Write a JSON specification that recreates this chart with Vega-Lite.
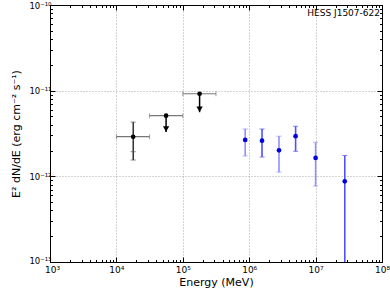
{
  "$schema": "https://vega.github.io/schema/vega-lite/v6.json",
  "width": 332,
  "height": 257,
  "autosize": {"type": "none"},
  "padding": {"left": 50, "top": 5, "right": 8, "bottom": 33},
  "config": {"font": "DejaVu Sans", "view": {"stroke": "black", "strokeWidth": 1}},
  "datasets": {
    "black": [
      {"e": 17900, "f": 2.9e-12, "elo": 10000, "ehi": 31600, "flo": 1.55e-12, "fmid": 1.94e-12, "fhi": 4.3e-12, "kind": "point"},
      {"e": 56000, "f": 5.1e-12, "elo": 31600, "ehi": 100000, "fend": 3.3e-12, "kind": "ul"},
      {"e": 179000, "f": 9.2e-12, "elo": 100000, "ehi": 316000, "fend": 5.6e-12, "kind": "ul"}
    ],
    "blue": [
      {"e": 870000, "f": 2.66e-12, "flo": 1.73e-12, "fhi": 3.57e-12, "set": "A"},
      {"e": 1560000, "f": 2.61e-12, "flo": 1.68e-12, "fhi": 3.57e-12, "set": "B"},
      {"e": 2810000, "f": 2.01e-12, "flo": 1.12e-12, "fhi": 2.94e-12, "set": "A"},
      {"e": 5000000, "f": 2.94e-12, "flo": 1.96e-12, "fhi": 3.84e-12, "set": "B"},
      {"e": 10000000, "f": 1.64e-12, "flo": 7.7e-13, "fhi": 2.5e-12, "set": "A"},
      {"e": 27500000, "f": 8.75e-13, "flo": 5e-14, "fhi": 1.75e-12, "set": "B"}
    ],
    "label": [{"e": 100000000, "f": 1e-10, "text": "HESS J1507-622"}]
  },
  "layer": [
    {
      "data": {"name": "black"},
      "mark": {"type": "rule", "color": "#777777", "strokeWidth": 1.2},
      "encoding": {
        "x": {
          "field": "elo", "type": "quantitative",
          "scale": {"type": "log", "domain": [1000, 100000000], "nice": false},
          "axis": {
            "orient": "bottom",
            "values": [1000,2000,3000,4000,5000,6000,7000,8000,9000,10000,20000,30000,40000,50000,60000,70000,80000,90000,100000,200000,300000,400000,500000,600000,700000,800000,900000,1000000,2000000,3000000,4000000,5000000,6000000,7000000,8000000,9000000,10000000,20000000,30000000,40000000,50000000,60000000,70000000,80000000,90000000,100000000],
            "labelExpr": "abs(log(datum.value)/LN10 - round(log(datum.value)/LN10)) < 0.001 ? '10' + ['⁰','¹','²','³','⁴','⁵','⁶','⁷','⁸','⁹'][round(log(datum.value)/LN10)] : ''",
            "title": "Energy (MeV)",
            "titleFontSize": 11,
            "titleFontWeight": "normal",
            "titleColor": "black",
            "titlePadding": 0,
            "labelFontSize": 9,
            "labelColor": "black",
            "labelPadding": 8,
            "labelOffset": {"condition": {"test": "datum.value < 1500", "value": 2}, "value": 0},
            "labelFlush": false,
            "labelOverlap": false,
            "labelBound": false,
            "tickColor": "black",
            "tickSize": {"condition": {"test": "abs(log(datum.value)/LN10 - round(log(datum.value)/LN10)) < 0.001", "value": -5}, "value": -2.5},
            "domainColor": "black",
            "grid": true,
            "gridColor": "#aaaaaa",
            "gridDash": [1, 2],
            "gridOpacity": {"condition": {"test": "abs(log(datum.value)/LN10 - round(log(datum.value)/LN10)) < 0.001", "value": 1}, "value": 0}
          }
        },
        "x2": {"field": "ehi"},
        "y": {
          "field": "f", "type": "quantitative",
          "scale": {"type": "log", "domain": [1e-13, 1e-10], "nice": false},
          "axis": {
            "orient": "left",
            "values": [1e-13,2e-13,3e-13,4e-13,5e-13,6e-13,7e-13,8e-13,9e-13,1e-12,2e-12,3e-12,4e-12,5e-12,6e-12,7e-12,8e-12,9e-12,1e-11,2e-11,3e-11,4e-11,5e-11,6e-11,7e-11,8e-11,9e-11,1e-10],
            "labelExpr": "abs(log(datum.value)/LN10 - round(log(datum.value)/LN10)) < 0.001 ? '10⁻¹' + ['⁰','¹','²','³'][-round(log(datum.value)/LN10)-10] : ''",
            "title": "E² dN/dE (erg cm⁻² s⁻¹)",
            "titleFontSize": 11,
            "titleFontWeight": "normal",
            "titleColor": "black",
            "titlePadding": 7,
            "labelFontSize": 8.5,
            "labelColor": "black",
            "labelPadding": 4,
            "labelOffset": {"condition": {"test": "datum.value < 1.5e-13", "value": -2}, "value": 0},
            "labelFlush": false,
            "labelOverlap": false,
            "labelBound": false,
            "tickColor": "black",
            "tickSize": {"condition": {"test": "abs(log(datum.value)/LN10 - round(log(datum.value)/LN10)) < 0.001", "value": -5}, "value": -2.5},
            "domainColor": "black",
            "grid": true,
            "gridColor": "#aaaaaa",
            "gridDash": [1, 2],
            "gridOpacity": {"condition": {"test": "abs(log(datum.value)/LN10 - round(log(datum.value)/LN10)) < 0.001", "value": 1}, "value": 0}
          }
        }
      }
    },
    {
      "data": {"name": "black"},
      "mark": {"type": "tick", "orient": "vertical", "color": "#777777", "size": 5, "thickness": 1},
      "encoding": {
        "x": {
          "field": "elo", "type": "quantitative",
          "axis": {
            "orient": "top",
            "values": [1000,2000,3000,4000,5000,6000,7000,8000,9000,10000,20000,30000,40000,50000,60000,70000,80000,90000,100000,200000,300000,400000,500000,600000,700000,800000,900000,1000000,2000000,3000000,4000000,5000000,6000000,7000000,8000000,9000000,10000000,20000000,30000000,40000000,50000000,60000000,70000000,80000000,90000000,100000000],
            "labels": false, "title": null, "grid": false, "domainColor": "black", "tickColor": "black",
            "tickSize": {"condition": {"test": "abs(log(datum.value)/LN10 - round(log(datum.value)/LN10)) < 0.001", "value": -5}, "value": -2.5}
          }
        },
        "y": {
          "field": "f", "type": "quantitative",
          "axis": {
            "orient": "right",
            "values": [1e-13,2e-13,3e-13,4e-13,5e-13,6e-13,7e-13,8e-13,9e-13,1e-12,2e-12,3e-12,4e-12,5e-12,6e-12,7e-12,8e-12,9e-12,1e-11,2e-11,3e-11,4e-11,5e-11,6e-11,7e-11,8e-11,9e-11,1e-10],
            "labels": false, "title": null, "grid": false, "domainColor": "black", "tickColor": "black",
            "tickSize": {"condition": {"test": "abs(log(datum.value)/LN10 - round(log(datum.value)/LN10)) < 0.001", "value": -5}, "value": -2.5}
          }
        }
      }
    },
    {
      "data": {"name": "black"},
      "mark": {"type": "tick", "orient": "vertical", "color": "#777777", "size": 5, "thickness": 1},
      "encoding": {
        "x": {"field": "ehi", "type": "quantitative", "axis": null},
        "y": {"field": "f", "type": "quantitative", "axis": null}
      }
    },
    {
      "data": {"name": "black"},
      "transform": [{"filter": "datum.kind === 'point'"}],
      "mark": {"type": "rule", "color": "black", "strokeWidth": 1.2},
      "encoding": {
        "x": {"field": "e", "type": "quantitative", "axis": null},
        "y": {"field": "flo", "type": "quantitative", "axis": null},
        "y2": {"field": "fhi"}
      }
    },
    {
      "data": {"name": "black"},
      "transform": [{"filter": "datum.kind === 'point'"}, {"fold": ["flo", "fmid", "fhi"], "as": ["cap", "fcap"]}],
      "mark": {"type": "tick", "orient": "horizontal", "color": "#555555", "size": 5, "thickness": 1},
      "encoding": {
        "x": {"field": "e", "type": "quantitative", "axis": null},
        "y": {"field": "fcap", "type": "quantitative", "axis": null}
      }
    },
    {
      "data": {"name": "black"},
      "transform": [{"filter": "datum.kind === 'ul'"}],
      "mark": {"type": "rule", "color": "black", "strokeWidth": 1.5},
      "encoding": {
        "x": {"field": "e", "type": "quantitative", "axis": null},
        "y": {"field": "f", "type": "quantitative", "axis": null},
        "y2": {"field": "fend"}
      }
    },
    {
      "data": {"name": "black"},
      "transform": [{"filter": "datum.kind === 'ul'"}],
      "mark": {"type": "point", "shape": "triangle-down", "filled": true, "color": "black", "opacity": 1, "size": 40, "yOffset": -3},
      "encoding": {
        "x": {"field": "e", "type": "quantitative", "axis": null},
        "y": {"field": "fend", "type": "quantitative", "axis": null}
      }
    },
    {
      "data": {"name": "black"},
      "mark": {"type": "circle", "color": "black", "opacity": 1, "size": 22},
      "encoding": {
        "x": {"field": "e", "type": "quantitative", "axis": null},
        "y": {"field": "f", "type": "quantitative", "axis": null}
      }
    },
    {
      "data": {"name": "blue"},
      "mark": {"type": "rule", "strokeWidth": 1.6, "clip": true},
      "encoding": {
        "x": {"field": "e", "type": "quantitative", "axis": null},
        "y": {"field": "flo", "type": "quantitative", "axis": null},
        "y2": {"field": "fhi"},
        "color": {"field": "set", "type": "nominal", "scale": {"domain": ["A", "B"], "range": ["#8f8fff", "#4f4fff"]}, "legend": null}
      }
    },
    {
      "data": {"name": "blue"},
      "transform": [{"fold": ["flo", "fhi"], "as": ["cap", "fcap"]}],
      "mark": {"type": "tick", "orient": "horizontal", "size": 5, "thickness": 1, "clip": true},
      "encoding": {
        "x": {"field": "e", "type": "quantitative", "axis": null},
        "y": {"field": "fcap", "type": "quantitative", "axis": null},
        "color": {"field": "set", "type": "nominal", "legend": null}
      }
    },
    {
      "data": {"name": "blue"},
      "mark": {"type": "circle", "color": "#0000dd", "opacity": 1, "size": 22},
      "encoding": {
        "x": {"field": "e", "type": "quantitative", "axis": null},
        "y": {"field": "f", "type": "quantitative", "axis": null}
      }
    },
    {
      "data": {"name": "label"},
      "mark": {"type": "text", "align": "right", "baseline": "top", "dx": -2, "dy": 4, "fontSize": 9, "color": "black"},
      "encoding": {
        "x": {"field": "e", "type": "quantitative", "axis": null},
        "y": {"field": "f", "type": "quantitative", "axis": null},
        "text": {"field": "text"}
      }
    }
  ],
  "resolve": {"axis": {"x": "independent", "y": "independent"}}
}
